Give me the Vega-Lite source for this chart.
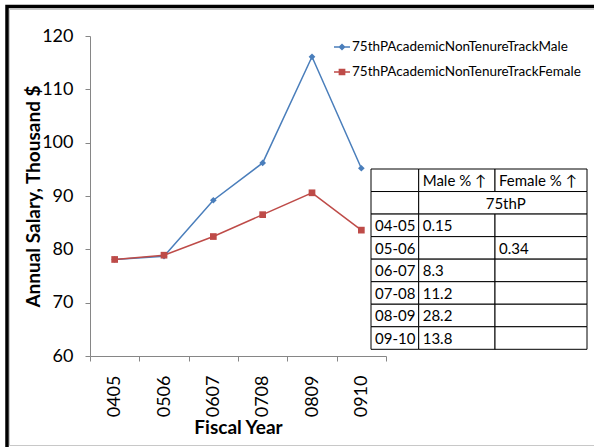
{
  "$schema": "https://vega.github.io/schema/vega-lite/v6.json",
  "width": 296,
  "height": 320,
  "autosize": {"type": "none"},
  "padding": {"left": 90, "top": 36, "right": 208, "bottom": 91},
  "background": "white",
  "config": {
    "view": {"stroke": null},
    "font": "Lato",
    "axis": {"labelFont": "Lato", "titleFont": "Lato", "labelColor": "#000", "titleColor": "#000", "domainColor": "#868686", "tickColor": "#868686", "grid": false},
    "legend": {
      "orient": "none", "legendX": 244, "legendY": 3, "title": null, "padding": 0,
      "symbolSize": 256, "symbolStrokeWidth": 0, "symbolOpacity": 1,
      "labelFontSize": 13.5, "labelOffset": 2, "rowPadding": 10, "labelColor": "#000", "labelFont": "Lato", "labelLimit": 0
    }
  },
  "datasets": {
    "frame": [{"part": "border"}],
    "salary": [
      {"year": "0405", "series": "75thPAcademicNonTenureTrackMale", "salary": 78.1},
      {"year": "0506", "series": "75thPAcademicNonTenureTrackMale", "salary": 78.7},
      {"year": "0607", "series": "75thPAcademicNonTenureTrackMale", "salary": 89.2},
      {"year": "0708", "series": "75thPAcademicNonTenureTrackMale", "salary": 96.2},
      {"year": "0809", "series": "75thPAcademicNonTenureTrackMale", "salary": 116.1},
      {"year": "0910", "series": "75thPAcademicNonTenureTrackMale", "salary": 95.2},
      {"year": "0405", "series": "75thPAcademicNonTenureTrackFemale", "salary": 78.1},
      {"year": "0506", "series": "75thPAcademicNonTenureTrackFemale", "salary": 78.9},
      {"year": "0607", "series": "75thPAcademicNonTenureTrackFemale", "salary": 82.4},
      {"year": "0708", "series": "75thPAcademicNonTenureTrackFemale", "salary": 86.5},
      {"year": "0809", "series": "75thPAcademicNonTenureTrackFemale", "salary": 90.6},
      {"year": "0910", "series": "75thPAcademicNonTenureTrackFemale", "salary": 83.6}
    ],
    "table": [
      {"row": 0, "col": 0, "colEnd": 1, "text": ""},
      {"row": 0, "col": 1, "colEnd": 2, "text": "Male % ↑"},
      {"row": 0, "col": 2, "colEnd": 3, "text": "Female % ↑"},
      {"row": 1, "col": 0, "colEnd": 1, "text": ""},
      {"row": 1, "col": 1, "colEnd": 3, "text": "75thP"},
      {"row": 2, "col": 0, "colEnd": 1, "text": "04-05"},
      {"row": 2, "col": 1, "colEnd": 2, "text": "0.15"},
      {"row": 2, "col": 2, "colEnd": 3, "text": ""},
      {"row": 3, "col": 0, "colEnd": 1, "text": "05-06"},
      {"row": 3, "col": 1, "colEnd": 2, "text": ""},
      {"row": 3, "col": 2, "colEnd": 3, "text": "0.34"},
      {"row": 4, "col": 0, "colEnd": 1, "text": "06-07"},
      {"row": 4, "col": 1, "colEnd": 2, "text": "8.3"},
      {"row": 4, "col": 2, "colEnd": 3, "text": ""},
      {"row": 5, "col": 0, "colEnd": 1, "text": "07-08"},
      {"row": 5, "col": 1, "colEnd": 2, "text": "11.2"},
      {"row": 5, "col": 2, "colEnd": 3, "text": ""},
      {"row": 6, "col": 0, "colEnd": 1, "text": "08-09"},
      {"row": 6, "col": 1, "colEnd": 2, "text": "28.2"},
      {"row": 6, "col": 2, "colEnd": 3, "text": ""},
      {"row": 7, "col": 0, "colEnd": 1, "text": "09-10"},
      {"row": 7, "col": 1, "colEnd": 2, "text": "13.8"},
      {"row": 7, "col": 2, "colEnd": 3, "text": ""}
    ]
  },
  "layer": [
    {
      "data": {"name": "frame"},
      "mark": {"type": "rect", "fillOpacity": 0, "stroke": "#000", "strokeWidth": 3.5},
      "encoding": {
        "x": {"datum": 0, "type": "quantitative", "scale": {"domain": [0, 1], "range": [-83, 520], "nice": false, "zero": false}, "axis": null},
        "x2": {"datum": 1},
        "y": {"datum": 0, "type": "quantitative", "scale": {"domain": [0, 1], "range": [-29.5, 420], "nice": false, "zero": false}, "axis": null},
        "y2": {"datum": 1}
      }
    },
    {
      "data": {"name": "frame"},
      "mark": {"type": "rect", "fillOpacity": 0, "stroke": "#c8c8c8", "strokeWidth": 1},
      "encoding": {
        "x": {"datum": 0, "type": "quantitative", "scale": {"domain": [0, 1], "range": [-80.5, 520], "nice": false, "zero": false}, "axis": null},
        "x2": {"datum": 1},
        "y": {"datum": 0, "type": "quantitative", "scale": {"domain": [0, 1], "range": [-26.5, 409.5], "nice": false, "zero": false}, "axis": null},
        "y2": {"datum": 1}
      }
    },
    {
      "data": {"name": "salary"},
      "layer": [
        {
          "mark": {"type": "line", "strokeWidth": 1.5},
          "encoding": {
            "x": {
              "field": "year", "type": "nominal",
              "scale": {"type": "band", "paddingInner": 0, "paddingOuter": 0},
              "axis": {
                "title": "Fiscal Year", "labelAngle": -90, "labelAlign": "right", "labelBaseline": "middle",
                "labelFontSize": 18, "labelPadding": 14, "tickBand": "extent", "tickSize": 5,
                "titleFontSize": 19, "titleFontWeight": "bold", "titleX": 148, "titleY": 77,
                "titleBaseline": "alphabetic", "titleAlign": "center"
              }
            },
            "y": {
              "field": "salary", "type": "quantitative",
              "scale": {"domain": [60, 120], "nice": false, "zero": false},
              "axis": {
                "title": "Annual Salary, Thousand $", "values": [60, 70, 80, 90, 100, 110, 120],
                "labelFontSize": 18, "labelPadding": 12, "tickSize": 5,
                "titleFontSize": 19, "titleFontWeight": "bold", "titleX": -51, "titleY": 160,
                "titleBaseline": "alphabetic", "titleAlign": "center", "titleAngle": 270
              }
            },
            "color": {
              "field": "series", "type": "nominal",
              "scale": {"domain": ["75thPAcademicNonTenureTrackMale", "75thPAcademicNonTenureTrackFemale"], "range": ["#4A7EBB", "#BE4B48"]},
              "legend": null
            }
          }
        },
        {
          "mark": {"type": "point", "filled": true, "opacity": 1, "size": 45},
          "encoding": {
            "x": {"field": "year", "type": "nominal"},
            "y": {"field": "salary", "type": "quantitative"},
            "color": {"field": "series", "type": "nominal", "legend": null},
            "shape": {
              "field": "series", "type": "nominal",
              "scale": {"domain": ["75thPAcademicNonTenureTrackMale", "75thPAcademicNonTenureTrackFemale"], "range": ["diamond", "square"]},
              "legend": null
            }
          }
        },
        {
          "transform": [{"filter": "datum.salary < 0"}],
          "mark": {"type": "point", "filled": true, "opacity": 1},
          "encoding": {
            "color": {"field": "series", "type": "nominal", "legend": {}},
            "shape": {
              "field": "series", "type": "nominal",
              "scale": {"domain": ["75thPAcademicNonTenureTrackMale", "75thPAcademicNonTenureTrackFemale"], "range": ["M-1,-0.1L1,-0.1L1,0.1L-1,0.1Z M0,-0.45L0.45,0L0,0.45L-0.45,0Z", "M-1,-0.1L1,-0.1L1,0.1L-1,0.1Z M-0.42,-0.42L0.42,-0.42L0.42,0.42L-0.42,0.42Z"]},
              "legend": {}
            }
          }
        }
      ],
      "resolve": {"scale": {"shape": "independent"}, "legend": {"color": "independent", "shape": "independent"}}
    },
    {
      "data": {"name": "table"},
      "layer": [
        {
          "mark": {"type": "rect", "fill": "white", "stroke": "#000", "strokeWidth": 1},
          "encoding": {
            "x": {"field": "col", "type": "quantitative", "scale": {"domain": [0, 1, 2, 3], "range": [281, 328.7, 405, 497], "nice": false, "zero": false}, "axis": null},
            "x2": {"field": "colEnd"},
            "y": {"field": "row", "type": "ordinal", "scale": {"type": "band", "range": [133, 313.3], "paddingInner": 0, "paddingOuter": 0}, "axis": null}
          }
        },
        {
          "transform": [{"filter": "datum.colEnd - datum.col == 1"}],
          "mark": {"type": "text", "align": "left", "baseline": "middle", "dx": 4, "dy": 1, "fontSize": 15, "font": "Lato", "fill": "#000"},
          "encoding": {
            "x": {"field": "col", "type": "quantitative"},
            "y": {"field": "row", "type": "ordinal"},
            "text": {"field": "text"}
          }
        },
        {
          "transform": [{"filter": "datum.colEnd - datum.col == 2"}],
          "mark": {"type": "text", "align": "center", "baseline": "middle", "dx": 87, "dy": 1, "fontSize": 15, "font": "Lato", "fill": "#000"},
          "encoding": {
            "x": {"field": "col", "type": "quantitative"},
            "y": {"field": "row", "type": "ordinal"},
            "text": {"field": "text"}
          }
        }
      ]
    }
  ],
  "resolve": {"scale": {"x": "independent", "y": "independent"}}
}
